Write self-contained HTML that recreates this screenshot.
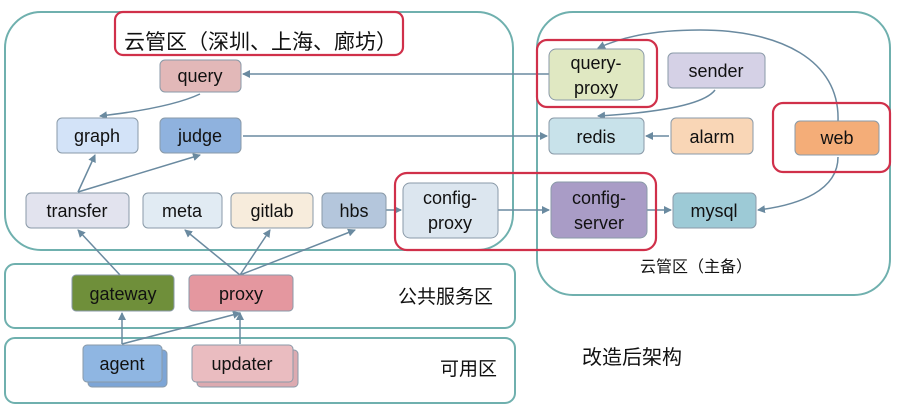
<!DOCTYPE html>
<html><head><meta charset="utf-8"><style>
html,body{margin:0;padding:0;background:#fff;width:899px;height:419px;overflow:hidden}
text{font-family:"Liberation Sans","Noto Sans CJK SC",sans-serif;fill:#111}
.n{font-size:18px;text-anchor:middle}
</style></head><body>
<svg width="899" height="419" viewBox="0 0 899 419" xmlns="http://www.w3.org/2000/svg">
<defs>
<marker id="a" markerWidth="8" markerHeight="8" refX="7" refY="4" orient="auto" markerUnits="userSpaceOnUse"><path d="M0,0 L8,4 L0,8 z" fill="#6a8aa0"/></marker>
</defs>
<g fill="none" stroke="#6fb0ae" stroke-width="2">
<rect x="5" y="12" width="508" height="238" rx="36"/>
<rect x="537" y="12" width="353" height="283" rx="36"/>
<rect x="5" y="264" width="510" height="64" rx="10"/>
<rect x="5" y="338" width="510" height="65" rx="10"/>
</g>
<g stroke="#6a8aa0" stroke-width="1.5" fill="none" marker-end="url(#a)">
<path d="M549,74 L243,74"/>
<path d="M200,94 Q170,108 100,116"/>
<path d="M243,136 L547,136"/>
<path d="M669,136 L646,136"/>
<path d="M78,192 L95,155"/>
<path d="M78,192 L200,155"/>
<path d="M386,210 L401,210"/>
<path d="M498,210 L549,210"/>
<path d="M647,210 L671,210"/>
<path d="M715,90 Q700,110 598,116"/>
<path d="M838,121 C840,60 780,30 700,30 C650,30 620,38 598,48"/>
<path d="M838,157 C838,190 800,205 758,210"/>
<path d="M120,275 L78,230"/>
<path d="M240,275 L185,230"/>
<path d="M240,275 L270,230"/>
<path d="M240,275 L355,230"/>
<path d="M122,344 L122,313"/>
<path d="M122,344 L240,313"/>
<path d="M240,344 L240,313"/>
</g>
<g stroke="#8a9aa8" stroke-width="1">
<rect x="88" y="350" width="79" height="37" rx="4" fill="#7da5d6"/>
<rect x="197" y="350" width="101" height="37" rx="4" fill="#dcaab0"/>
<rect x="160" y="60" width="81" height="32" rx="5" fill="#e2b8b8"/>
<rect x="57" y="118" width="81" height="35" rx="5" fill="#d3e3f8"/>
<rect x="160" y="118" width="81" height="35" rx="5" fill="#8fb2de"/>
<rect x="26" y="193" width="103" height="35" rx="5" fill="#e2e3ee"/>
<rect x="143" y="193" width="79" height="35" rx="5" fill="#e1ebf3"/>
<rect x="231" y="193" width="82" height="35" rx="5" fill="#f7ecdc"/>
<rect x="322" y="193" width="64" height="35" rx="5" fill="#b4c6dc"/>
<rect x="403" y="183" width="95" height="55" rx="7" fill="#dce6ef"/>
<rect x="549" y="49" width="95" height="51" rx="7" fill="#e0e8c2"/>
<rect x="668" y="53" width="97" height="35" rx="5" fill="#d5d1e6"/>
<rect x="549" y="118" width="95" height="36" rx="5" fill="#c8e2ea"/>
<rect x="671" y="118" width="82" height="36" rx="5" fill="#f9d6b6"/>
<rect x="795" y="121" width="84" height="34" rx="5" fill="#f4ad78"/>
<rect x="551" y="182" width="96" height="56" rx="7" fill="#a99cc6"/>
<rect x="673" y="193" width="83" height="35" rx="5" fill="#9dcad6"/>
<rect x="72" y="275" width="102" height="36" rx="4" fill="#6f8f3a"/>
<rect x="189" y="275" width="104" height="36" rx="4" fill="#e4979f"/>
<rect x="83" y="345" width="79" height="37" rx="4" fill="#8fb6e2"/>
<rect x="192" y="345" width="101" height="37" rx="4" fill="#eabcc0"/>
</g>
<g fill="none" stroke="#d0304a" stroke-width="2.2">
<rect x="115" y="12" width="288" height="43" rx="8"/>
<rect x="537" y="40" width="120" height="67" rx="10"/>
<rect x="773" y="103" width="117" height="69" rx="10"/>
<rect x="395" y="173" width="261" height="77" rx="12"/>
</g>
<text x="124" y="49" style="font-size:21px">云管区（深圳、上海、廊坊）</text>
<text class="n" x="200" y="82">query</text>
<text class="n" x="97" y="142">graph</text>
<text class="n" x="200" y="142">judge</text>
<text class="n" x="77" y="217">transfer</text>
<text class="n" x="182" y="217">meta</text>
<text class="n" x="272" y="217">gitlab</text>
<text class="n" x="354" y="217">hbs</text>
<text class="n" x="450" y="204">config-</text>
<text class="n" x="450" y="229">proxy</text>
<text class="n" x="596" y="69">query-</text>
<text class="n" x="596" y="94">proxy</text>
<text class="n" x="716" y="77">sender</text>
<text class="n" x="596" y="143">redis</text>
<text class="n" x="712" y="143">alarm</text>
<text class="n" x="837" y="144">web</text>
<text class="n" x="599" y="204">config-</text>
<text class="n" x="599" y="229">server</text>
<text class="n" x="714" y="217">mysql</text>
<text x="640" y="272" style="font-size:16px">云管区（主备）</text>
<text class="n" x="123" y="300">gateway</text>
<text class="n" x="241" y="300">proxy</text>
<text class="n" x="122" y="370">agent</text>
<text class="n" x="242" y="370">updater</text>
<text x="398" y="303" style="font-size:19px">公共服务区</text>
<text x="440" y="375" style="font-size:19px">可用区</text>
<text x="582" y="364" style="font-size:20px">改造后架构</text>
</svg>
</body></html>
